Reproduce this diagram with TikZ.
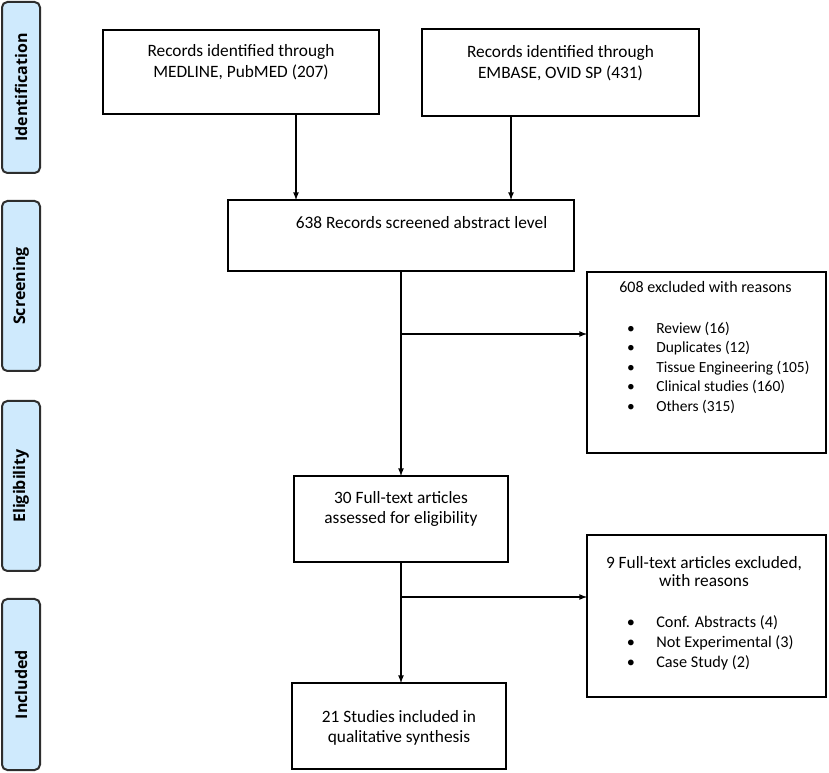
\documentclass[tikz,border=0pt]{standalone}
\usepackage{fontspec}
\setmainfont{Carlito}
\newfontfamily\phasefont{Open Sans}
\usepackage{xcolor}
\usetikzlibrary{positioning,calc}
\definecolor{phaseblue}{RGB}{207,234,253}
\definecolor{phaseline}{RGB}{45,45,45}

\begin{document}
\begin{tikzpicture}[
		x=0.75pt,y=-0.75pt,
		box/.style={draw, line width=1pt, inner sep=0pt, outer sep=0pt},
		txt/.style={align=center, inner sep=0pt, font=\fontsize{13}{15.5}\selectfont},
		lst/.style={align=left, inner sep=0pt, anchor=west, font=\fontsize{11.6}{14.6}\selectfont},
		phase/.style={draw=phaseline, line width=1.5pt, fill=phaseblue, rounded corners=4pt,
			rotate=90, inner sep=0pt, minimum height=28.5pt,
			font=\phasefont\bfseries\fontsize{12}{14}\selectfont},
		>=latex
		]
		\useasboundingbox (0,0) rectangle (829,773);
		
		% ====== PHASE LABELS ======
		\node[phase, minimum width=128.25pt] (pIdent) at (21,87.5) {Identification};
		\node[phase, minimum width=127.5pt] (pScreen) at (21,286) {Screening};
		\node[phase, minimum width=127.5pt] (pElig) at (21,486) {Eligibility};
		\node[phase, minimum width=128.25pt] (pIncl) at (21,684.5) {Included};
		
		% ====== BOXES ======
		\node[box, minimum width=207pt, minimum height=63pt] (id1) at (241,72) {};
		\node[txt] (id1t) at (241,62.5) {Records identified through\\MEDLINE, PubMED (207)};
		
		\node[box, minimum width=207.75pt, minimum height=65.25pt] (id2) at (560.5,72.5) {};
		\node[txt] (id2t) at (560.5,63) {Records identified through\\EMBASE, OVID SP (431)};
		
		\node[box, minimum width=259.5pt, minimum height=53.25pt] (scr) at (401,235.5) {};
		\node[txt] (scrt) at (421.5,223) {638 Records screened abstract level};
		
		\node[box, minimum width=179.25pt, minimum height=135.75pt] (ex1) at (706.5,362.5) {};
		\node[txt, font=\fontsize{12}{14}\selectfont] (ex1t) at (705.5,287) {608 excluded with reasons};
		\node[lst] (ex1l) at (656,367.5) {%
			\llap{\textbullet\hspace{16pt}}Review (16)\\
			\llap{\textbullet\hspace{16pt}}Duplicates (12)\\
			\llap{\textbullet\hspace{16pt}}Tissue Engineering (105)\\
			\llap{\textbullet\hspace{16pt}}Clinical studies (160)\\
			\llap{\textbullet\hspace{16pt}}Others (315)};
		
		\node[box, minimum width=160.5pt, minimum height=64.5pt] (elig) at (401,519) {};
		\node[txt] (eligt) at (401,509) {30 Full-text articles\\assessed for eligibility};
		
		\node[box, minimum width=179.25pt, minimum height=121.5pt] (ex2) at (706.5,616) {};
		\node[txt, font=\fontsize{13}{14}\selectfont] (ex2t) at (704,571.5) {9 Full-text articles excluded,\\with reasons};
		\node[lst, font=\fontsize{12.2}{15}\selectfont] (ex2l) at (656,643) {%
			\llap{\textbullet\hspace{16pt}}Conf. Abstracts (4)\\
			\llap{\textbullet\hspace{16pt}}Not Experimental (3)\\
			\llap{\textbullet\hspace{16pt}}Case Study (2)};
		
		\node[box, minimum width=160.5pt, minimum height=64.5pt] (incl) at (399,726) {};
		\node[txt] (inclt) at (399,728) {21 Studies included in\\qualitative synthesis};
		
		% ====== ARROWS ======
		\draw[->, line width=1pt] ([xshift=41.25pt]id1.south) -- ([xshift=41.25pt]id1.south |- scr.north);
		\draw[->, line width=1pt] ([xshift=-37.1pt]id2.south) -- ([xshift=-37.1pt]id2.south |- scr.north);
		\draw[->, line width=1pt] (scr.south) -- (elig.north);
		
		\coordinate (br1) at (401,334);
		\draw[->, line width=1pt] (br1) -- (br1 -| ex1.west);
		
		\draw[->, line width=1pt] (elig.south) -- (elig.south |- incl.north);
		
		\coordinate (br2) at (401,597);
		\draw[->, line width=1pt] (br2) -- (br2 -| ex2.west);
		
\end{tikzpicture}
\end{document}
